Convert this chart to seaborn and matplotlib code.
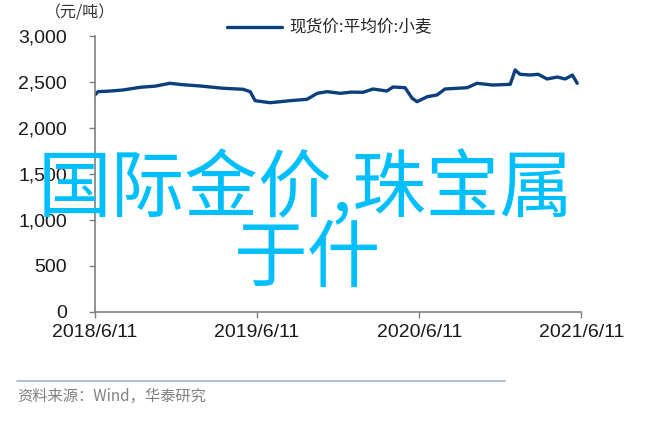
import numpy as np
import pandas as pd
import seaborn as sns
import matplotlib.pyplot as plt
import matplotlib.ticker as mticker

# 现货价:平均价:小麦 (元/吨), values
dates = ['2018-06-11', '2018-06-18', '2018-07-10', '2018-08-13', '2018-09-20',
         '2018-10-25', '2018-11-27', '2018-12-28', '2019-02-03', '2019-03-27',
         '2019-05-11', '2019-05-27', '2019-06-07', '2019-07-11', '2019-08-25',
         '2019-10-02', '2019-10-25', '2019-11-16', '2019-12-16', '2020-01-10',
         '2020-02-05', '2020-02-28', '2020-03-30', '2020-04-13', '2020-05-10',
         '2020-05-26', '2020-06-06', '2020-06-29', '2020-07-21', '2020-08-08',
         '2020-09-27', '2020-10-19', '2020-11-24', '2021-01-02', '2021-01-13',
         '2021-01-24', '2021-02-16', '2021-03-06', '2021-03-26', '2021-04-18',
         '2021-05-06', '2021-05-22', '2021-06-02']
prices = [2359, 2395, 2400, 2413, 2442,
          2455, 2486, 2470, 2457, 2432,
          2421, 2395, 2297, 2275, 2297,
          2312, 2377, 2395, 2377, 2390,
          2388, 2424, 2402, 2446, 2438,
          2323, 2286, 2340, 2359, 2424,
          2438, 2486, 2467, 2475, 2631,
          2584, 2576, 2584, 2533, 2554,
          2533, 2576, 2486]

xtick_dates = ['2018-06-11', '2019-06-11', '2020-06-11', '2021-06-11']
xtick_labels = ['2018/6/11', '2019/6/11', '2020/6/11', '2021/6/11']
yticks = [0, 500, 1000, 1500, 2000, 2500, 3000]

series_name = '现货价:平均价:小麦'
unit_label = '（元/吨）'
source_text = '资料来源：Wind，华泰研究'
overlay_lines = ['国际金价,珠宝属', '于什']

df = pd.DataFrame({'date': pd.to_datetime(dates), 'price': prices})

sns.set_style('white')
plt.rcParams['font.family'] = ['Liberation Sans', 'Noto Sans CJK SC', 'DejaVu Sans']

fig = plt.figure(figsize=(6.59, 4.29), dpi=100)
ax = fig.add_axes([0.144, 0.273, 0.738, 0.643])

line_color = '#0b3f7e'
sns.lineplot(data=df, x='date', y='price', ax=ax, color=line_color,
             linewidth=2.4, label=series_name, legend=False)

ax.set_xlim(pd.Timestamp(xtick_dates[0]), pd.Timestamp(xtick_dates[-1]))
ax.set_ylim(0, 3000)
ax.set_xticks(pd.to_datetime(xtick_dates))
ax.set_xticklabels(xtick_labels)
ax.set_yticks(yticks)
ax.yaxis.set_major_formatter(mticker.FuncFormatter(lambda v, p: f'{v:,.0f}'))
ax.set_xlabel('')
ax.set_ylabel('')

for side in ['top', 'right']:
    ax.spines[side].set_visible(False)
for side in ['left', 'bottom']:
    ax.spines[side].set_color('#7f7f7f')
    ax.spines[side].set_linewidth(1.2)
ax.tick_params(axis='both', which='both', direction='out', length=4,
               width=1.0, color='#7f7f7f', labelsize=14,
               labelcolor='#1a1a1a', left=True, bottom=True)
ax.tick_params(axis='y', pad=16)
ax.tick_params(axis='x', pad=5)

leg = fig.legend(handles=ax.get_lines(), labels=[series_name],
                 loc='center', bbox_to_anchor=(0.50, 0.935), frameon=False,
                 handlelength=3.3, handletextpad=0.4,
                 prop={'family': ['Noto Sans CJK SC'], 'size': 12})

fig.text(80 / 659, 1 - 13 / 429, unit_label, ha='center', va='center',
         fontsize=11.5, color='#333333', family=['Noto Sans CJK SC'])

# source line and note
fig.add_artist(plt.Line2D([17 / 659, 505 / 659], [1 - 381 / 429, 1 - 381 / 429],
                          color='#9fb3cc', linewidth=1.2))
fig.text(17 / 659, 1 - 396 / 429, source_text, ha='left', va='center',
         fontsize=11, color='#808080', family=['Noto Sans CJK SC', 'DejaVu Sans'])

# overlay caption
fig.text(306 / 659, 1 - 190 / 429, overlay_lines[0], ha='center', va='center',
         fontsize=53, color='#00bfff', family=['Noto Sans CJK SC'])
fig.text(308 / 659, 1 - 260 / 429, overlay_lines[1], ha='center', va='center',
         fontsize=53, color='#00bfff', family=['Noto Sans CJK SC'])

fig.savefig('out.png', dpi=100)
